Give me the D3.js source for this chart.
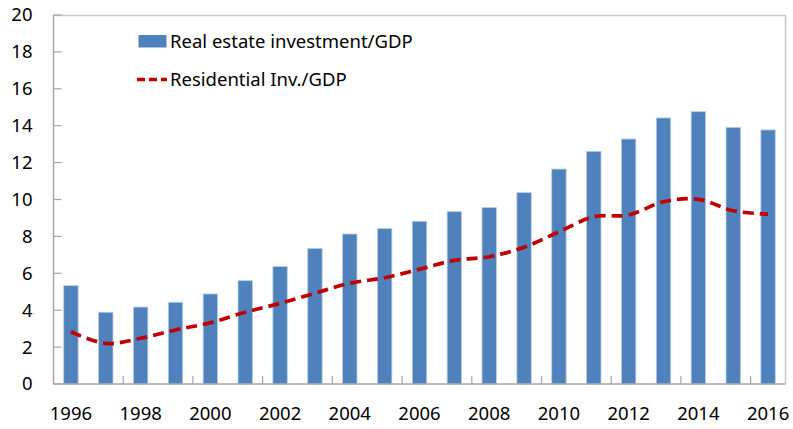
<!DOCTYPE html>
<html>
<head>
<meta charset="utf-8">
<script src="https://cdn.jsdelivr.net/npm/d3@7"></script>
<style>
  html, body { margin: 0; padding: 0; background: #fff; }
  svg { display: block; font-family: "Noto Sans", "Open Sans", sans-serif; }
</style>
</head>
<body>
<svg id="chart" width="793" height="429"></svg>
<script>
// --- data ---
const years = d3.range(1996, 2017).map(String);
const realEstateInv = [5.33, 3.89, 4.17, 4.43, 4.88, 5.6, 6.36, 7.35, 8.13, 8.42, 8.82,
                       9.34, 9.56, 10.37, 11.65, 12.61, 13.28, 14.42, 14.76, 13.91, 13.77];
const residentialInv = [2.83, 2.2, 2.48, 2.93, 3.32, 3.89, 4.37, 4.92, 5.46, 5.76, 6.22,
                        6.7, 6.9, 7.41, 8.25, 9.07, 9.16, 9.88, 10.01, 9.39, 9.21];
const yTicks = [0, 2, 4, 6, 8, 10, 12, 14, 16, 18, 20];
const xLabels = years.filter((d, i) => i % 2 === 0);
const legendLabels = ["Real estate investment/GDP", "Residential Inv./GDP"];

const W = 793, H = 429;
const m = { left: 53.5, right: 7.5, top: 15, bottom: 45 };
const iw = W - m.left - m.right, ih = H - m.top - m.bottom;
const fs = 18.5;

const svg = d3.select("#chart");
const g = svg.append("g").attr("transform", `translate(${m.left},${m.top})`);

const gap = 0.587;
const x = d3.scaleBand().domain(years).range([0, iw]).paddingInner(gap).paddingOuter(gap / 2);
const y = d3.scaleLinear().domain([0, 20]).range([ih, 0]);
const step = x.step();

const axisColor = "#a6a6a6";

// plot frame (top + right)
g.append("path")
  .attr("d", `M0,0.5H${iw}V${ih}`)
  .attr("fill", "none").attr("stroke", "#c8c8c8").attr("stroke-width", 1.5);

// bars
g.append("g").selectAll("rect")
  .data(realEstateInv)
  .join("rect")
  .attr("x", (d, i) => x(years[i]))
  .attr("y", d => y(d))
  .attr("width", x.bandwidth())
  .attr("height", d => ih - y(d))
  .attr("fill", "#4f81bd")
  .attr("stroke", "#b8cce4")
  .attr("stroke-width", 0.8);

// residential line (smoothed, dashed)
const line = d3.line()
  .x((d, i) => x(years[i]) + x.bandwidth() / 2)
  .y(d => y(d))
  .curve(d3.curveCardinal.tension(0));

g.append("path")
  .datum(residentialInv)
  .attr("d", line)
  .attr("fill", "none")
  .attr("stroke", "#c00000")
  .attr("stroke-width", 3.7)
  .attr("stroke-dasharray", "11,6");

// y axis
const yAxis = g.append("g");
yAxis.append("line")
  .attr("x1", 0).attr("x2", 0).attr("y1", 0).attr("y2", ih)
  .attr("stroke", axisColor).attr("stroke-width", 1.5);
yAxis.selectAll(".tk")
  .data(yTicks)
  .join("line")
  .attr("x1", 0).attr("x2", 8)
  .attr("y1", d => y(d)).attr("y2", d => y(d))
  .attr("stroke", axisColor).attr("stroke-width", 1.2);
yAxis.selectAll("text")
  .data(yTicks)
  .join("text")
  .attr("x", -21)
  .attr("y", d => y(d))
  .attr("dy", "0.35em")
  .attr("text-anchor", "end")
  .attr("font-size", fs)
  .attr("fill", "#000")
  .text(d => d);

// x axis
const xAxis = g.append("g").attr("transform", `translate(0,${ih})`);
xAxis.append("line")
  .attr("x1", 0).attr("x2", iw)
  .attr("stroke", axisColor).attr("stroke-width", 1.5);
xAxis.selectAll(".tk")
  .data(d3.range(2, years.length, 2))
  .join("line")
  .attr("x1", i => i * step).attr("x2", i => i * step)
  .attr("y1", 0).attr("y2", -8)
  .attr("stroke", axisColor).attr("stroke-width", 1.2);
xAxis.selectAll("text")
  .data(xLabels)
  .join("text")
  .attr("x", d => x(d) + x.bandwidth() / 2)
  .attr("y", 30)
  .attr("dy", "0.35em")
  .attr("text-anchor", "middle")
  .attr("font-size", fs)
  .attr("fill", "#000")
  .text(d => d);

// legend
const lg = svg.append("g");
lg.append("rect")
  .attr("x", 138.5).attr("y", 35).attr("width", 28).attr("height", 12.5)
  .attr("fill", "#4f81bd");
lg.append("text")
  .attr("x", 170).attr("y", 41.5).attr("dy", "0.35em")
  .attr("font-size", fs).attr("fill", "#000")
  .text(legendLabels[0]);
lg.append("line")
  .attr("x1", 137).attr("x2", 167).attr("y1", 79.5).attr("y2", 79.5)
  .attr("stroke", "#c00000").attr("stroke-width", 3.5)
  .attr("stroke-dasharray", "8,4");
lg.append("text")
  .attr("x", 170).attr("y", 79.5).attr("dy", "0.35em")
  .attr("font-size", fs).attr("fill", "#000")
  .text(legendLabels[1]);
</script>
</body>
</html>
